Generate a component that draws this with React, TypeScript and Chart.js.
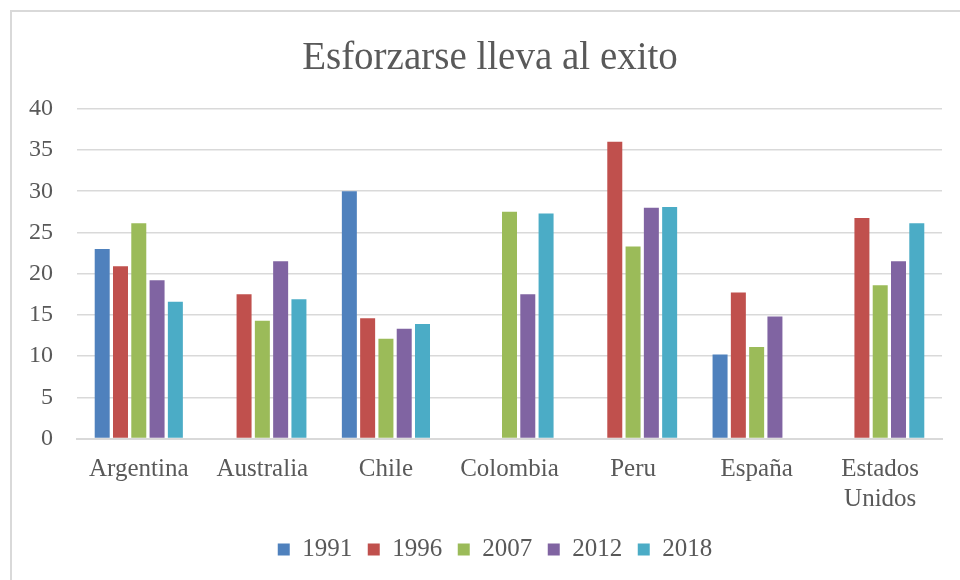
import React, { useEffect, useRef } from "react";
import { Chart, registerables } from "chart.js";

Chart.register(...registerables);

const categories: (string | string[])[] = [
  "Argentina",
  "Australia",
  "Chile",
  "Colombia",
  "Peru",
  "España",
  ["Estados", "Unidos"],
];
const seriesLabels = ["1991", "1996", "2007", "2012", "2018"];
const v1991 = [23.0, null, 30.0, null, null, 10.2, null];
const v1996 = [20.9, 17.5, 14.6, null, 36.0, 17.7, 26.75];
const v2007 = [26.1, 14.3, 12.1, 27.5, 23.3, 11.1, 18.6];
const v2012 = [19.2, 21.5, 13.3, 17.5, 28.0, 14.8, 21.5];
const v2018 = [16.6, 16.9, 13.9, 27.3, 28.1, null, 26.1];
const yTicks = [0, 5, 10, 15, 20, 25, 30, 35, 40];
const colors = ["#4F81BD", "#C0504D", "#9BBB59", "#8064A2", "#4BACC6"];

const FONT = "'Liberation Serif', 'Times New Roman', serif";
const TEXT = "#595959";

// nudges the centred title and legend to the reference's horizontal centre
const shiftPlugin = {
  id: "shiftBoxes",
  afterLayout(chart: any) {
    if (chart.legend) {
      chart.legend.left += 11.5;
      chart.legend.right += 11.5;
    }
    if (chart.titleBlock) {
      chart.titleBlock.left += 6.5;
      chart.titleBlock.right += 6.5;
    }
  },
};

export default function App() {
  const ref = useRef<HTMLCanvasElement | null>(null);
  useEffect(() => {
    if (!ref.current) return;
    const values = [v1991, v1996, v2007, v2012, v2018];
    const chart = new Chart(ref.current, {
      type: "bar",
      data: {
        labels: categories,
        datasets: seriesLabels.map((l, i) => ({
          label: l,
          data: values[i],
          backgroundColor: colors[i],
          borderWidth: 0,
          categoryPercentage: 0.74,
          barPercentage: 0.82,
        })),
      },
      plugins: [shiftPlugin],
      options: {
        responsive: false,
        animation: false,
        layout: { padding: { left: 25, right: 18, top: 0, bottom: 8 } },
        plugins: {
          title: {
            display: true,
            text: "Esforzarse lleva al exito",
            color: TEXT,
            font: { family: FONT, size: 39, weight: "normal" },
            padding: { top: 35, bottom: 27 },
          },
          legend: {
            position: "bottom",
            labels: {
              color: TEXT,
              font: { family: FONT, size: 25 },
              boxWidth: 12,
              boxHeight: 12,
              padding: 15.5,
            },
          },
          tooltip: { enabled: false },
        },
        scales: {
          x: {
            grid: { display: false },
            border: { display: true, color: "#d9d9d9", width: 2 },
            ticks: {
              color: TEXT,
              font: { family: FONT, size: 25 },
              padding: 8,
              maxRotation: 0,
              autoSkip: false,
            },
            afterFit: (axis: any) => {
              axis.height -= 1;
            },
          },
          y: {
            min: 0,
            max: 40,
            afterBuildTicks: (axis: any) => {
              axis.ticks = yTicks.map((v) => ({ value: v }));
            },
            afterFit: (axis: any) => {
              axis.width = 52;
            },
            grid: { color: "#d9d9d9", lineWidth: 1.5, drawTicks: false },
            border: { display: false },
            ticks: {
              color: TEXT,
              font: { family: FONT, size: 24 },
              padding: 24,
            },
          },
        },
      },
    });
    return () => chart.destroy();
  }, []);
  return (
    <div
      style={{
        position: "fixed",
        left: 0,
        top: 0,
        width: 960,
        height: 580,
        overflow: "hidden",
        background: "#fff",
      }}
    >
      <div
        style={{
          position: "absolute",
          left: 10,
          top: 10,
          width: 1000,
          height: 700,
          borderLeft: "2px solid #d9d9d9",
          borderTop: "2px solid #d9d9d9",
        }}
      />
      <canvas
        ref={ref}
        width={960}
        height={580}
        style={{ position: "absolute", left: 0, top: 0 }}
      />
    </div>
  );
}
